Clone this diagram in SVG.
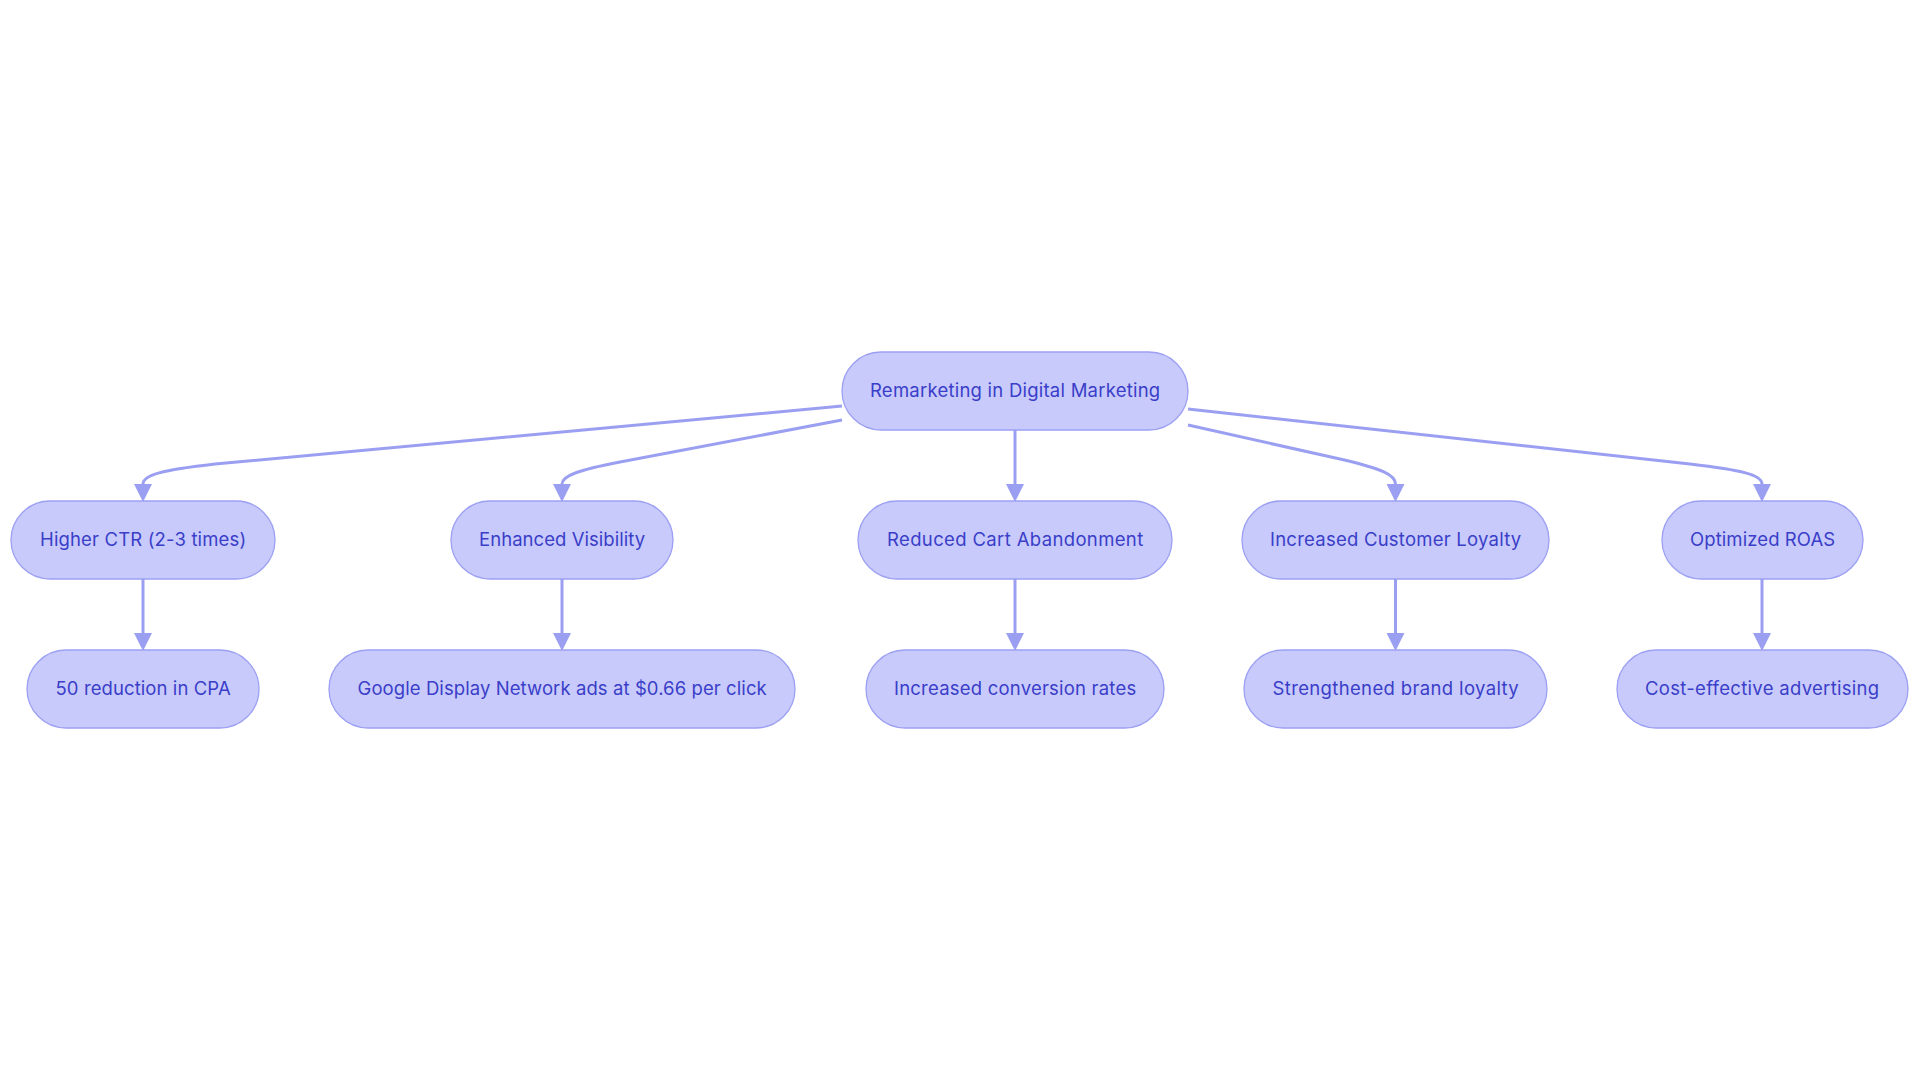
<svg xmlns="http://www.w3.org/2000/svg" width="1920" height="1083" viewBox="0 0 1920 1083">
<defs>
<style>
.node rect{fill:#c8cafc;stroke:#9ca0f2;stroke-width:1.3}
.node text{font-family:Inter,"Liberation Sans",sans-serif;font-size:18.5px;fill:#3a3ec8;text-anchor:middle;letter-spacing:-0.2px}
.edge{fill:none;stroke:#9b9ff2;stroke-width:3}
</style>
<marker id="arr" markerUnits="userSpaceOnUse" markerWidth="18" markerHeight="18" viewBox="0 0 17 17" refX="0" refY="8.5" orient="auto">
<path d="M0,0 L17,8.5 L0,17 Z" fill="#9b9ff2"/>
</marker>
</defs>
<rect width="1920" height="1083" fill="#ffffff"/>
<g id="connectors">
<path class="edge" marker-end="url(#arr)" d="M842,406 L215,464 C162,470 143,475 143,484"/>
<path class="edge" marker-end="url(#arr)" d="M842,420 L620,462 C578,470 562,476 562,484"/>
<path class="edge" marker-end="url(#arr)" d="M1015,430 L1015,484"/>
<path class="edge" marker-end="url(#arr)" d="M1188,425 L1340,459 C1383,469 1395.5,475 1395.5,484"/>
<path class="edge" marker-end="url(#arr)" d="M1188,409 L1690,464 C1742,470 1762,475 1762,484"/>
<path class="edge" marker-end="url(#arr)" d="M143,579 L143,633"/>
<path class="edge" marker-end="url(#arr)" d="M562,579 L562,633"/>
<path class="edge" marker-end="url(#arr)" d="M1015,579 L1015,633"/>
<path class="edge" marker-end="url(#arr)" d="M1395.5,579 L1395.5,633"/>
<path class="edge" marker-end="url(#arr)" d="M1762,579 L1762,633"/>
</g>
<g id="root" class="node"><rect x="842" y="352" width="346" height="78" rx="39"/><text x="1015" y="397" textLength="290">Remarketing in Digital Marketing</text></g>
<g id="ctr" class="node"><rect x="11" y="501" width="264" height="78" rx="39"/><text x="143" y="546" textLength="206">Higher CTR (2-3 times)</text></g>
<g id="visibility" class="node"><rect x="451" y="501" width="222" height="78" rx="39"/><text x="562" y="546" textLength="166">Enhanced Visibility</text></g>
<g id="cart" class="node"><rect x="858" y="501" width="314" height="78" rx="39"/><text x="1015" y="546" textLength="256">Reduced Cart Abandonment</text></g>
<g id="loyalty" class="node"><rect x="1242" y="501" width="307" height="78" rx="39"/><text x="1395.5" y="546" textLength="251">Increased Customer Loyalty</text></g>
<g id="roas" class="node"><rect x="1662" y="501" width="201" height="78" rx="39"/><text x="1762.5" y="546" textLength="145">Optimized ROAS</text></g>
<g id="cpa" class="node"><rect x="27" y="650" width="232" height="78" rx="39"/><text x="143" y="695" textLength="175">50 reduction in CPA</text></g>
<g id="gdn" class="node"><rect x="329" y="650" width="466" height="78" rx="39"/><text x="562" y="695" textLength="409">Google Display Network ads at $0.66 per click</text></g>
<g id="conversion" class="node"><rect x="866" y="650" width="298" height="78" rx="39"/><text x="1015" y="695" textLength="242">Increased conversion rates</text></g>
<g id="brand" class="node"><rect x="1244" y="650" width="303" height="78" rx="39"/><text x="1395.5" y="695" textLength="246">Strengthened brand loyalty</text></g>
<g id="cost" class="node"><rect x="1617" y="650" width="291" height="78" rx="39"/><text x="1762" y="695" textLength="234">Cost-effective advertising</text></g>
</svg>
